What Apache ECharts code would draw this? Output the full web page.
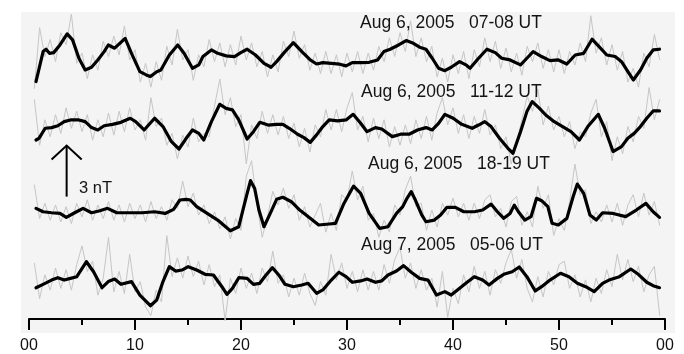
<!DOCTYPE html>
<html>
<head>
<meta charset="utf-8">
<script src="https://cdn.jsdelivr.net/npm/echarts@6/dist/echarts.min.js"></script>
<style>
html,body{margin:0;padding:0;background:#fff;}
#chart{width:684px;height:354px;}
</style>
</head>
<body>
<div id="chart"></div>
<script>
// ---- tick labels ----
const xTicks = [0, 10, 20, 30, 40, 50, 60];
const xTickLabels = ['00', '10', '20', '30', '40', '50', '00'];

// ---- panel titles ----
const traceLabels = [
  'Aug 6, 2005   07-08 UT',
  'Aug 6, 2005   11-12 UT',
  'Aug 6, 2005   18-19 UT',
  'Aug 7, 2005   05-06 UT'
];

// ---- scale bar (nT) ----
const scaleBarTime = 3.55;
const scaleBarNT = 3;
const scaleBarLabel = '3 nT';

// ---- raw (gray) samples, minutes ----
const grayTimes = [
  0.5,1.0,1.5,2.0,2.5,3.0,3.5,4.0,4.5,5.0,
  5.5,6.0,6.5,7.0,7.5,8.0,8.5,9.0,9.5,10.0,
  10.5,11.0,11.5,12.0,12.5,13.0,13.5,14.0,14.5,15.0,
  15.5,16.0,16.5,17.0,17.5,18.0,18.5,19.0,19.5,20.0,
  20.5,21.0,21.5,22.0,22.5,23.0,23.5,24.0,24.5,25.0,
  25.5,26.0,26.5,27.0,27.5,28.0,28.5,29.0,29.5,30.0,
  30.5,31.0,31.5,32.0,32.5,33.0,33.5,34.0,34.5,35.0,
  35.5,36.0,36.5,37.0,37.5,38.0,38.5,39.0,39.5,40.0,
  40.5,41.0,41.5,42.0,42.5,43.0,43.5,44.0,44.5,45.0,
  45.5,46.0,46.5,47.0,47.5,48.0,48.5,49.0,49.5,50.0,
  50.5,51.0,51.5,52.0,52.5,53.0,53.5,54.0,54.5,55.0,
  55.5,56.0,56.5,57.0,57.5,58.0,58.5,59.0,59.5
];

// raw traces, nT relative to each trace's own baseline
const gray1 = [
  -1.7,1.9,0.2,1.2,-0.1,1.6,0.9,2.7,-0.2,0.4,
  -1.1,0.3,-0.6,1.1,0.2,1.4,0.3,2.0,0.0,0.6,
  -1.3,-0.2,-1.6,-0.1,-1.2,0.8,-0.3,1.8,0.0,0.6,
  -1.2,0.3,-0.4,1.2,-0.1,1.0,-0.4,0.9,-0.3,1.4,
  0.0,1.0,-0.4,0.5,-1.0,0.3,-0.7,1.1,0.2,1.7,
  0.1,0.9,-0.6,0.4,-0.8,0.5,-0.8,0.3,-1.0,0.4,
  -0.7,0.5,-0.8,0.4,-0.6,0.8,-0.1,1.3,0.2,1.6,
  0.5,2.3,0.2,1.3,-0.1,0.8,-1.0,0.1,-1.3,0.3,
  -0.8,0.5,-1.1,0.6,-0.4,1.3,-0.1,1.1,-0.5,0.7,
  -0.7,0.4,-0.9,0.8,-0.1,1.0,-0.5,0.6,-0.7,0.6,
  -0.8,0.5,-0.3,1.0,-0.1,2.6,0.4,1.3,-0.3,0.9,
  -0.6,0.5,-1.3,-0.5,-1.6,0.4,-0.4,1.5,0.0
];
const gray2 = [
  1.8,-0.9,0.6,-0.4,0.9,-0.2,1.3,0.1,1.1,-0.1,
  0.9,-0.6,0.6,-0.4,1.0,-0.3,1.1,-0.1,1.3,0.0,
  0.6,-0.6,1.9,0.2,0.7,-0.9,-0.2,-1.7,-0.3,-1.0,
  0.7,-0.7,-0.2,-0.4,1.4,3.0,0.9,1.9,0.2,0.9,
  -2.0,0.3,-0.5,1.1,-0.2,0.9,-0.3,0.8,-0.5,0.4,
  -1.0,0.1,-1.3,0.3,-0.4,1.2,0.0,1.2,-0.1,1.3,
  2.2,0.0,0.8,-0.7,0.7,-0.5,0.6,-1.0,0.2,-0.9,
  0.3,-0.8,0.6,-0.5,0.8,-0.6,1.0,1.9,0.3,1.3,
  -0.2,0.9,-0.5,0.8,-0.2,1.2,-0.3,0.3,-1.1,-0.4,
  -2.0,-0.7,0.6,2.0,1.1,2.4,0.3,1.4,0.0,0.8,
  -0.4,0.5,-1.1,-0.1,-0.4,1.0,1.8,-0.4,0.5,-1.8,
  -0.4,-1.4,0.2,-0.7,0.8,0.1,2.5,0.6,1.8
];
const gray3 = [
  1.5,-0.5,0.4,-0.6,0.3,-0.7,0.2,-0.8,0.4,-0.4,
  0.6,-0.6,0.3,-0.5,0.5,-0.6,0.3,-0.7,0.4,-0.5,
  0.3,-0.7,0.5,-0.5,0.2,-0.6,0.6,0.1,1.7,0.2,
  1.0,-0.3,0.3,-0.8,-0.1,-1.1,-0.4,-1.7,-0.5,-1.2,
  2.0,2.9,0.4,-1.6,-0.4,1.1,0.3,1.3,0.1,0.9,
  -0.6,0.2,-1.0,-0.3,0.4,-1.3,-0.2,-1.2,0.9,0.6,
  2.3,0.6,1.4,-0.6,-0.2,-1.6,-0.6,-1.3,0.3,-0.3,
  1.2,2.0,0.2,0.4,-1.2,0.0,-1.0,0.4,-0.3,0.7,
  -0.4,0.4,-0.6,0.4,-0.5,0.6,0.9,-0.4,0.1,-1.0,
  0.5,0.8,-0.9,-0.1,-1.0,1.4,0.1,0.9,-1.5,-0.5,
  -1.2,0.5,2.7,0.9,1.2,-0.8,-0.1,-0.7,0.3,-0.7,
  0.4,-0.9,0.3,0.9,-0.4,1.0,-0.3,0.5,-0.9
];
const gray4 = [
  1.3,-0.8,0.6,-0.3,1.0,-0.2,0.9,-0.3,1.2,2.3,
  0.8,1.4,-0.6,0.4,2.8,-0.4,0.8,-0.5,1.8,-0.4,
  0.2,-1.3,-1.8,-0.3,-1.0,2.9,0.5,1.6,0.4,1.7,
  0.5,1.4,0.0,1.2,-0.1,0.6,-2.1,0.4,-0.5,1.0,
  -0.2,0.7,-0.5,1.0,0.2,2.0,0.1,0.6,-0.7,0.4,
  -0.6,0.7,-0.5,-1.2,0.2,-0.6,1.8,0.3,1.3,-0.2,
  0.8,-0.4,0.9,-0.3,0.8,-0.3,1.2,0.1,1.5,2.2,
  0.4,1.3,-0.2,0.9,-0.3,0.4,-1.3,0.8,-1.9,-0.2,
  -1.1,0.6,-0.4,1.1,-0.2,0.8,-0.6,0.9,0.1,1.3,
  2.1,0.4,1.5,-0.2,-1.0,0.5,-0.7,0.8,0.0,1.2,
  1.4,-0.2,0.6,-0.7,0.3,-1.0,0.4,-0.5,0.9,-0.1,
  1.8,0.3,1.5,0.2,1.1,-0.4,0.6,1.1,-1.8
];

// filtered (black) traces: [minute, nT relative to baseline]
const black1 = [
  [0.66,-1.27],[1.33,0.49],[1.61,0.63],[1.93,0.39],[2.33,0.43],[2.92,0.88],[3.6,1.53],[4.11,1.18],
  [4.71,0.1],[5.3,-0.59],[5.9,-0.43],[6.49,0],[7.09,0.49],[7.48,0.88],[8.08,0.69],[9.07,1.27],
  [9.67,0.39],[10.46,-0.69],[11.06,-0.88],[11.45,-0.98],[12.05,-0.69],[12.44,-0.59],[13.24,0.29],
  [14.03,0.88],[14.63,0.39],[15.42,-0.49],[16.02,-0.29],[16.41,0.2],[17.21,0.59],[17.8,0.39],
  [18.6,0.24],[19.39,0.2],[19.98,0.43],[20.58,0.63],[21.37,0.29],[22.17,-0.2],[22.84,-0.43],
  [23.36,-0.1],[24.15,0.49],[24.94,1.02],[25.74,0.49],[26.53,0],[27.13,-0.24],[27.72,-0.16],
  [28.52,-0.2],[29.31,-0.25],[29.91,-0.35],[30.5,-0.16],[31.29,-0.16],[32.09,-0.14],[32.88,0],
  [33.48,0.49],[34.07,0.63],[34.87,0.88],[35.58,1.14],[36.26,0.98],[36.85,0.75],[37.45,0.63],
  [38.04,0.1],[38.64,-0.49],[39.23,-0.63],[39.83,-0.43],[40.62,-0.1],[41.21,-0.29],[41.61,-0.49],
  [42.41,0.1],[43.2,0.63],[43.99,0.43],[44.59,0.1],[45.38,0],[46.37,-0.29],[46.97,0.1],
  [47.56,0.49],[48.36,0.2],[49.15,-0.04],[49.94,0],[50.74,-0.24],[51.53,0.29],[52.33,0.39],
  [53.12,1.22],[53.91,0.69],[54.51,0.29],[55.3,0.2],[55.9,-0.1],[56.5,-0.69],[57.01,-1.18],
  [57.69,-0.59],[58.28,0.1],[58.88,0.59],[59.48,0.63]
];
const black2 = [
  [0.66,-0.59],[0.94,-0.49],[1.53,0.1],[2.13,0.14],[2.72,0.25],[3.32,0.49],[3.91,0.59],[4.71,0.59],
  [5.3,0.49],[5.9,0.14],[6.49,0],[7.09,0.25],[7.88,0.33],[8.67,0.45],[9.55,0.69],[10.06,0.49],
  [10.86,0],[11.85,0.69],[12.64,0.2],[13.44,-0.69],[14.15,-1.12],[14.83,-0.49],[15.42,0],
  [16.02,-0.2],[16.49,-0.59],[17.21,0.49],[18.0,1.51],[18.6,1.27],[19.19,1.18],[19.79,0.59],
  [20.58,-0.53],[21.17,-0.1],[21.77,0.45],[22.56,0.29],[23.36,0.33],[23.95,0.33],[24.55,0.1],
  [25.34,-0.25],[25.94,-0.45],[26.53,-0.73],[27.13,-0.29],[27.72,0.2],[28.32,0.59],[29.11,0.53],
  [29.91,0.59],[30.58,0.92],[31.29,0.39],[31.89,-0.1],[32.68,0.14],[33.28,0.06],[34.27,-0.39],
  [35.06,-0.25],[35.86,-0.25],[36.65,0],[37.45,0.14],[38.04,0],[38.64,0.39],[39.23,0.92],
  [40.02,0.69],[40.82,0.33],[41.81,0.1],[42.41,0.29],[43.0,0.49],[43.59,0.2],[44.39,-0.49],
  [45.18,-1.08],[45.66,-1.37],[46.37,-0.1],[46.97,1.08],[47.48,1.67],[48.16,1.27],[48.75,0.88],
  [49.55,0.49],[50.34,0.2],[51.13,-0.1],[51.93,-0.59],[52.72,0.2],[53.71,0.92],[54.31,0.1],
  [55.1,-1.27],[55.9,-0.98],[56.49,-0.49],[57.09,-0.2],[57.68,0.2],[58.28,0.69],[58.88,1.12],
  [59.48,1.12]
];
const black3 = [
  [0.66,0.1],[1.33,-0.1],[2.13,-0.16],[2.92,-0.2],[3.52,-0.43],[4.31,-0.16],[5.1,0.1],[5.9,-0.16],
  [6.69,-0.04],[7.41,0.1],[8.28,-0.16],[9.47,-0.16],[10.66,-0.16],[11.85,-0.1],[12.84,-0.2],
  [13.64,0.04],[14.23,0.59],[14.83,0.63],[15.22,0.59],[15.82,0.2],[16.81,-0.2],[17.8,-0.59],
  [18.99,-1.22],[19.79,-0.98],[20.18,0],[20.58,0.98],[20.9,1.73],[21.29,1.27],[21.69,0],
  [22.17,-0.98],[22.76,-0.2],[23.36,0.63],[23.95,0.75],[24.75,0.49],[25.54,0],[26.53,-0.49],
  [27.33,-0.88],[28.32,-0.82],[28.91,-0.78],[29.71,0.39],[30.62,1.41],[31.29,0.98],[32.09,-0.2],
  [33.08,-1.08],[33.87,-0.98],[34.67,-0.2],[35.26,0.2],[35.66,0.69],[36.06,1.08],[36.45,0.59],
  [37.05,-0.29],[37.45,-0.69],[38.24,-0.59],[38.83,-0.29],[39.43,0.16],[40.22,0.16],[41.02,-0.1],
  [42.01,-0.1],[42.8,0],[43.59,0.35],[44.19,-0.1],[44.79,-0.49],[45.38,-0.2],[45.78,0.29],
  [46.17,-0.1],[46.77,-0.59],[47.36,-0.39],[47.88,0.69],[48.36,0.55],[48.95,0.2],[49.35,-0.78],
  [49.94,-0.88],[50.74,-0.49],[51.33,0.78],[51.73,1.53],[52.33,0.98],[52.92,-0.29],[53.52,-0.59],
  [54.11,-0.16],[55.1,-0.2],[56.29,-0.39],[57.29,0],[58.2,0.39],[58.88,-0.1],[59.48,-0.43]
];
const black4 = [
  [0.66,-0.16],[1.33,0.04],[2.13,0.29],[2.72,0.43],[3.32,0.29],[3.91,0.39],[4.51,0.49],[5.42,1.37],
  [6.09,0.78],[6.89,-0.16],[7.48,0.2],[8.08,0.35],[8.67,0.04],[9.67,0.2],[10.46,-0.59],[11.45,-1.22],
  [12.05,-0.88],[12.64,0.2],[13.24,1.08],[13.83,0.82],[14.43,0.88],[15.02,1.08],[15.82,0.88],
  [16.61,0.63],[17.4,0.59],[18.2,-0.1],[18.67,-0.55],[19.19,-0.2],[19.79,0.43],[20.58,0.39],
  [21.17,0.04],[21.77,0.1],[22.36,0.59],[22.96,1.02],[23.56,0.59],[24.15,0.04],[24.94,-0.1],
  [25.74,0],[26.33,0.1],[27.13,-0.49],[27.72,-0.29],[28.52,0.29],[29.23,0.75],[29.91,0.49],
  [30.5,0.16],[31.29,0.24],[31.89,0.35],[32.68,0.16],[33.28,0.24],[33.87,0.59],[34.67,0.82],
  [35.34,1.14],[36.06,0.75],[36.85,0.39],[37.64,0.29],[38.44,-0.59],[39.23,-0.39],[39.83,-0.59],
  [40.42,-0.29],[41.21,0.1],[42.01,0.49],[42.8,0.29],[43.4,0],[44.19,0.39],[44.79,0.63],
  [45.58,0.78],[46.25,1.06],[46.97,0.49],[47.76,-0.35],[48.36,-0.1],[49.15,0.29],[50.14,0.69],
  [50.94,0.49],[51.73,0.1],[52.52,-0.1],[53.32,-0.39],[54.11,0.1],[54.71,0.29],[55.7,0.49],
  [56.77,0.94],[57.48,0.63],[58.28,0.16],[58.88,-0.04],[59.48,-0.16]
];

const grayTraces = [gray1, gray2, gray3, gray4];
const blackTraces = [black1, black2, black3, black4];

// ---- layout (vertical stacking, in nT above the time axis) ----
const traceOffsets = [15.24, 11.12, 6.41, 2.0];
const scaleBarBase = 7.2;
const yMax = 18.06;
const labelPos = [[360, 23], [361, 92.5], [368, 164], [361, 245]];

const FONT = '"Liberation Sans", Arial, Helvetica, sans-serif';

const series = [];
grayTraces.forEach((g, i) => {
  series.push({
    type: 'line', symbol: 'none', clip: false, silent: true,
    data: grayTimes.map((t, j) => [t, traceOffsets[i] + g[j]]),
    lineStyle: { color: '#c6c6c6', width: 1 }, z: 2
  });
});
blackTraces.forEach((b, i) => {
  series.push({
    type: 'line', symbol: 'none', clip: false, silent: true,
    data: b.map(p => [p[0], traceOffsets[i] + p[1]]),
    lineStyle: { color: '#000', width: 3.2, join: 'round', cap: 'round' }, z: 3
  });
});
// scale bar arrow
series.push({
  type: 'line', symbol: 'none', clip: false, silent: true,
  data: [[scaleBarTime, scaleBarBase], [scaleBarTime, scaleBarBase + scaleBarNT]],
  lineStyle: { color: '#000', width: 2 }, z: 4
});
series.push({
  type: 'line', symbol: 'none', clip: false, silent: true,
  data: [[scaleBarTime - 1.42, scaleBarBase + scaleBarNT - 0.82],
         [scaleBarTime, scaleBarBase + scaleBarNT],
         [scaleBarTime + 1.42, scaleBarBase + scaleBarNT - 0.82]],
  lineStyle: { color: '#000', width: 2, join: 'miter' }, z: 4
});

const graphic = [
  { type: 'rect', shape: { x: 21, y: 12, width: 654, height: 321 },
    style: { fill: '#f4f4f4' }, z: -10, silent: true }
];
traceLabels.forEach((txt, i) => {
  graphic.push({
    type: 'text', x: labelPos[i][0], y: labelPos[i][1], z: 100, silent: true,
    style: { text: txt, fontSize: 17.5, fontFamily: FONT, fill: '#141414',
             verticalAlign: 'middle', align: 'left' }
  });
});
graphic.push({
  type: 'text', x: 79, y: 188.5, z: 100, silent: true,
  style: { text: scaleBarLabel, fontSize: 16.5, fontFamily: FONT, fill: '#141414',
           verticalAlign: 'middle', align: 'left' }
});

const chart = echarts.init(document.getElementById('chart'), null, { renderer: 'canvas' });
chart.setOption({
  animation: false,
  backgroundColor: '#ffffff',
  grid: { left: 29, right: 19, top: 12, bottom: 35, containLabel: false },
  xAxis: {
    type: 'value', min: 0, max: 60, interval: 10,
    axisLine: { show: true, onZero: false, lineStyle: { color: '#000', width: 2 } },
    axisTick: { show: true, length: 11, lineStyle: { color: '#000', width: 2 } },
    minorTick: { show: true, splitNumber: 2, length: 6, lineStyle: { color: '#000', width: 2 } },
    splitLine: { show: false },
    axisLabel: {
      margin: 19, fontSize: 16, color: '#111', fontFamily: FONT,
      formatter: v => { const k = xTicks.indexOf(v); return k >= 0 ? xTickLabels[k] : ''; }
    }
  },
  yAxis: { type: 'value', min: 0, max: yMax, show: false, splitLine: { show: false } },
  graphic: graphic,
  series: series
});
</script>
</body>
</html>
